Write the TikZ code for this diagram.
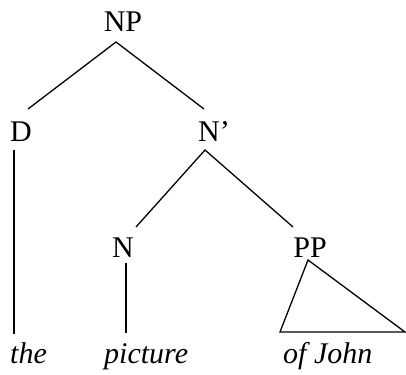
\documentclass[tikz,border=0pt]{standalone}
\usepackage{fontspec}
\setmainfont{Liberation Serif}

\begin{document}
\begin{tikzpicture}[x=1pt,y=-1pt,
  cat/.style={anchor=base,inner sep=0pt,font=\fontsize{30}{36}\selectfont},
  leaf/.style={cat,font=\fontsize{30}{36}\selectfont\itshape},
  branch/.style={line width=1.3pt}]
\useasboundingbox (0,0) rectangle (406,374);
% categories
\node[cat] (NP) at (123,32) {NP};
\node[cat] (D) at (21,142) {D};
\node[cat] (Nbar) at (214,142) {N'};
\node[cat] (N) at (123,257) {N};
\node[cat] (PP) at (310,257) {PP};
% words
\node[leaf,anchor=base west] (the) at (10,363) {the};
\node[leaf,anchor=base west] (picture) at (104,363) {picture};
\node[leaf,anchor=base west] (ofJohn) at (283,363) {of John};
% attachment points
\coordinate (NP-b) at (116,42);
\coordinate (D-t) at (28,109);
\coordinate (D-b) at (14,150);
\coordinate (Nbar-t) at (204,109);
\coordinate (Nbar-b) at (205,150);
\coordinate (N-t) at (136,227);
\coordinate (N-b) at (126,263);
\coordinate (PP-t) at (293,227);
\coordinate (PP-b) at (308,260);
\coordinate (the-t) at (14,334);
\coordinate (picture-t) at (126,333);
\coordinate (ofJohn-l) at (280,332);
\coordinate (ofJohn-r) at (405,332);
% branches
\draw[branch] (D-t) -- (NP-b) -- (Nbar-t);
\draw[branch] (D-b) -- (the-t);
\draw[branch] (N-t) -- (Nbar-b) -- (PP-t);
\draw[branch] (N-b) -- (picture-t);
\draw[branch,line join=miter] (PP-b) -- (ofJohn-r) -- (ofJohn-l) -- cycle;
\end{tikzpicture}
\end{document}
